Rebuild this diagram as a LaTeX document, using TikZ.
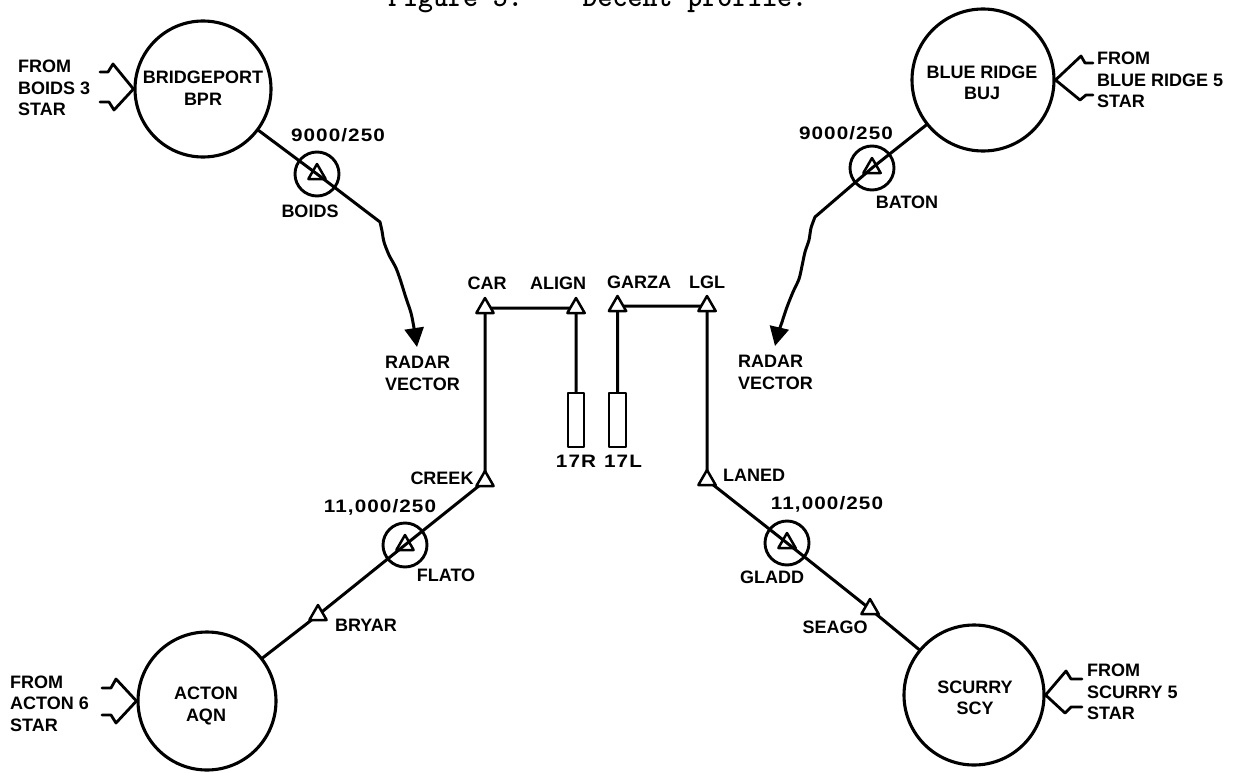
\documentclass[tikz,border=0pt]{standalone}
\usepackage{fontspec}
\setmainfont{Liberation Sans}
\newfontfamily\numfont[LetterSpace=6,FakeStretch=1.15]{Liberation Sans}
\usetikzlibrary{arrows.meta,shapes.geometric}
\tikzset{
  lbl/.style={font=\fontsize{18}{21.5}\selectfont\bfseries, inner sep=0pt, align=center},
  one/.style={lbl, text height=13pt, text depth=0pt},
  num/.style={font=\fontsize{18}{21.5}\selectfont\numfont\bfseries, inner sep=0pt, text height=13pt, text depth=0pt},
  from/.style={lbl, align=left, anchor=west},
  big/.style={circle, draw, line width=3.1pt, inner sep=0pt, minimum size=#1},
  fix/.style={circle, draw, line width=2.9pt, inner sep=0pt, minimum size=44pt},
  wp/.style={regular polygon, regular polygon sides=3, draw, line width=2.5pt, inner sep=0pt, minimum size=20pt},
  route/.style={line width=3pt},
  inb/.style={line width=2.8pt},
  vec/.style={route, -{Triangle[width=19pt,length=19pt]}},
  rwy/.style={draw, line width=2.6pt, inner sep=0pt, minimum width=16pt, minimum height=54pt}
}
\begin{document}
\begin{tikzpicture}[x=1pt, y=-1pt, line join=round, line cap=round]
\useasboundingbox (0,0) rectangle (1239,773);

% title (cut by the top edge, as in the reference)
\node[anchor=base west, inner sep=0pt, font=\ttfamily\bfseries\fontsize{28.5}{28.5}\selectfont] (title) at (388,7) {Figure 5.~~~~Decent profile.};

% airports
\node[big=136pt] (bpr) at (203,89) {};
\node[big=142pt] (buj) at (983,80) {};
\node[big=138pt] (aqn) at (207,701) {};
\node[big=140pt] (scy) at (974,695) {};
\node[lbl] (bprt) at (203,88) {BRIDGEPORT\\BPR};
\node[lbl] (bujt) at (982,83) {BLUE RIDGE\\BUJ};
\node[lbl] (aqnt) at (206,706) {ACTON\\AQN};
\node[lbl] (scyt) at (975,698) {SCURRY\\SCY};

% fixes
\coordinate (boids) at (317,174);
\coordinate (baton) at (872,168);
\coordinate (flato) at (405,545);
\coordinate (gladd) at (787,543);
\coordinate (car) at (485,308);
\coordinate (align) at (576,308);
\coordinate (garza) at (617.5,306);
\coordinate (lgl) at (707,306);
\coordinate (creek) at (485,481);
\coordinate (laned) at (707,480);
\coordinate (bryar) at (318,615);
\coordinate (seago) at (870,609);
\coordinate (bendL) at (380,222);
\coordinate (bendR) at (815,217);

\node[fix] (boidsC) at (boids) {};
\node[fix] (batonC) at (baton) {};
\node[fix] (flatoC) at (flato) {};
\node[fix] (gladdC) at (gladd) {};

% runways
\node[rwy] (rwyR) at (576,420) {};
\node[rwy, minimum width=17pt] (rwyL) at (617.5,420) {};

% routes
\draw[vec] (bpr) -- (boids) -- plot[smooth, tension=0.5] coordinates {(bendL) (382,231) (384,242) (389,255) (396,268) (401,282) (406,298) (411,313) (414,328) (417,347)};
\draw[vec] (buj) -- (baton) -- plot[smooth, tension=0.5] coordinates {(bendR) (811,228) (809,240) (805,252) (802,266) (799,279) (793,292) (787,307) (782,322) (778,334) (775,346)};
\draw[route] (aqn) -- (bryar) -- (flato) -- (creek) -- (car) -- (align) -- (rwyR);
\draw[route] (scy) -- (seago) -- (gladd) -- (laned) -- (lgl) -- (garza) -- (rwyL);

% waypoint triangles
\foreach \p in {car,align,garza,lgl,creek,laned,bryar,seago}
  \node[wp, fill=white] (\p-t) at (\p) {};
\foreach \p in {boids,baton,flato,gladd}
  \node[wp] (\p-t) at (\p) {};

% inbound STAR symbols
\coordinate (bprA) at (100,72);  \coordinate (bprB) at (100,102);
\draw[inb] (bprA) -- (108,72) -- (113,64) -- (bpr.west);
\draw[inb] (bprB) -- (109,102) -- (114,110) -- (bpr.west);
\coordinate (aqnA) at (102,688); \coordinate (aqnB) at (102,715);
\draw[inb] (aqnA) -- (111,688) -- (116,679) -- (aqn.west);
\draw[inb] (aqnB) -- (111,715) -- (116,723) -- (aqn.west);
\coordinate (bujA) at (1093,63); \coordinate (bujB) at (1093,95);
\draw[inb] (bujA) -- (1085,63) -- (1081,56) -- (buj.east);
\draw[inb] (bujB) -- (1086,95) -- (1080,100) -- (buj.east);
\coordinate (scyA) at (1082,679); \coordinate (scyB) at (1082,707);
\draw[inb] (scyA) -- (1071,679) -- (1066,671) -- (scy.east);
\draw[inb] (scyB) -- (1071,707) -- (1065,713) -- (scy.east);

\node[from] (bprf) at (18,88) {FROM\\BOIDS 3\\STAR};
\node[from] (bujf) at (1097,80) {FROM\\BLUE RIDGE 5\\STAR};
\node[from] (aqnf) at (10,703.5) {FROM\\ACTON 6\\STAR};
\node[from] (scyf) at (1087,692) {FROM\\SCURRY 5\\STAR};

% labels
\node[num] (alt1) at (338,135) {9000/250};
\node[one] (boidsl) at (310,211) {BOIDS};
\node[num] (alt2) at (846,133) {9000/250};
\node[one] (batonl) at (907,202) {BATON};
\node[one] (carl) at (487,283) {CAR};
\node[one] (alignl) at (558,283) {ALIGN};
\node[one] (garzal) at (639,282) {GARZA};
\node[one] (lgll) at (707,282) {LGL};
\node[from] (rvl) at (385,373.5) {RADAR\\VECTOR};
\node[from] (rvr) at (738,372.5) {RADAR\\VECTOR};
\node[one] (creekl) at (442,478) {CREEK};
\node[num] (alt3) at (380,506) {11,000/250};
\node[one] (flatol) at (446,575) {FLATO};
\node[one] (bryarl) at (366,625) {BRYAR};
\node[one] (lanedl) at (754,475) {LANED};
\node[num] (alt4) at (827,503) {11,000/250};
\node[one] (gladdl) at (772,577) {GLADD};
\node[one] (seagol) at (835,627) {SEAGO};
\node[num] (r17r) at (576,461) {17R};
\node[num] (r17l) at (623,461) {17L};
\end{tikzpicture}
\end{document}
